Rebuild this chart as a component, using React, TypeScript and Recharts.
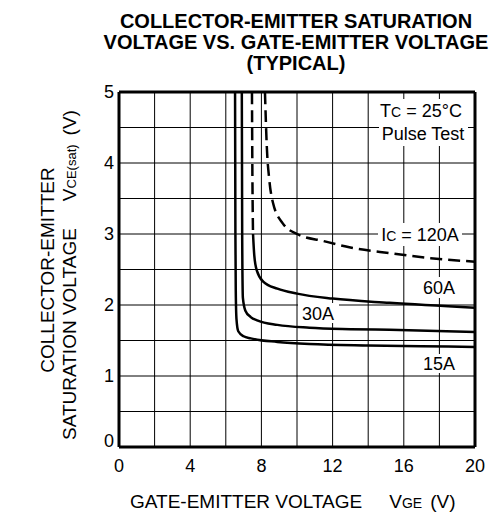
import { ComposedChart, CartesianGrid, XAxis, YAxis, Line, ReferenceLine } from "recharts";

const W = 496;
const H = 517;

// curves: [VGE, VCE(sat)]
const ic15: [number, number][] = [
  [6.52, 5], [6.54, 3.0], [6.56, 2.2], [6.6, 1.8], [6.7, 1.63], [7.0, 1.56], [7.4, 1.53],
  [8.9, 1.48], [10.7, 1.45], [14, 1.43], [17, 1.42], [20, 1.41],
];
const ic30: [number, number][] = [
  [6.9, 5], [6.92, 3.0], [6.96, 2.1], [7.1, 1.92], [7.4, 1.83], [7.8, 1.78], [8.9, 1.72],
  [10.7, 1.68], [13, 1.66], [15.2, 1.65], [20, 1.62],
];
const ic60Dash: [number, number][] = [
  [7.47, 5], [7.49, 4], [7.53, 3.0],
];
const ic60: [number, number][] = [
  [7.53, 3.0], [7.6, 2.7], [7.75, 2.48], [8.1, 2.33], [8.9, 2.23], [10, 2.16], [12, 2.09],
  [15.2, 2.03], [20, 1.96],
];
const ic120: [number, number][] = [
  [8.2, 5], [8.3, 4.25], [8.45, 3.75], [8.65, 3.44], [9.2, 3.15], [10, 3.0], [11.5, 2.9],
  [13, 2.81], [15.2, 2.73], [17.5, 2.66], [20, 2.61],
];

const xTicks = [0, 2, 4, 6, 8, 10, 12, 14, 16, 18, 20];
const yTicks = [0, 0.5, 1, 1.5, 2, 2.5, 3, 3.5, 4, 4.5, 5];

const toRows = (pts: [number, number][]) => pts.map(([x, y]) => ({ x, y }));

const font = "'Liberation Sans', Arial, sans-serif";

const series = [
  { key: "15A", data: ic15, dash: undefined },
  { key: "30A", data: ic30, dash: undefined },
  { key: "60A-d", data: ic60Dash, dash: "12 6" },
  { key: "60A", data: ic60, dash: undefined },
  { key: "120A", data: ic120, dash: "12 6" },
];

const YTick = (props: any) => {
  const { x, y, payload } = props;
  const v = payload.value as number;
  if (!Number.isInteger(v)) return <g />;
  return (
    <text x={x} y={v === 0 ? y - 6 : y} dy={6} textAnchor="end" fill="#000" fontSize={18} fontFamily={font}>
      {v}
    </text>
  );
};

const Labels = () => (
  <svg width={W} height={H} style={{ position: "absolute", left: 0, top: 0, pointerEvents: "none" }}>
    <g fontFamily={font} fontWeight="bold" fontSize={20} textAnchor="middle" fill="#000">
      <text x={296} y={28}>COLLECTOR-EMITTER SATURATION</text>
      <text x={296} y={49}>VOLTAGE VS. GATE-EMITTER VOLTAGE</text>
      <text x={296} y={70}>(TYPICAL)</text>
    </g>
    <g fontFamily={font} fontSize={19} fill="#000">
      <text x={0} y={0} textAnchor="middle" transform="translate(54,270) rotate(-90)">COLLECTOR-EMITTER</text>
      <text x={0} y={0} transform="translate(76,440) rotate(-90)">
        SATURATION VOLTAGE<tspan dx={27}>V</tspan><tspan fontSize={13}>CE(sat)</tspan><tspan dx={9}>(V)</tspan>
      </text>
      <text x={130} y={508}>
        GATE-EMITTER VOLTAGE<tspan dx={27}>V</tspan><tspan fontSize={14}>GE</tspan><tspan dx={8}>(V)</tspan>
      </text>
    </g>
    <g fill="#fff">
      <rect x={379} y={99} width={89} height={47} />
      <rect x={378} y={223} width={84} height={23} />
      <rect x={419} y={277} width={40} height={21} />
      <rect x={298} y={303} width={41} height={20} />
      <rect x={419} y={354} width={40} height={19} />
    </g>
    <g fontFamily={font} fontSize={18} fill="#000" textAnchor="middle">
      <text x={421} y={117}>T<tspan fontSize={14}>C</tspan> = 25°C</text>
      <text x={423} y={140}>Pulse Test</text>
      <text x={420} y={241}>I<tspan fontSize={14}>C</tspan> = 120A</text>
      <text x={439} y={294}>60A</text>
      <text x={318} y={320}>30A</text>
      <text x={439} y={370}>15A</text>
    </g>
  </svg>
);

export default function App() {
  return (
    <div style={{ position: "absolute", left: 0, top: 0, width: W, height: H, background: "#fff" }}>
      <ComposedChart width={W} height={H} margin={{ top: 92, right: 21, bottom: 0, left: 0 }}>
        <CartesianGrid stroke="#000" strokeWidth={1} />
        <XAxis
          type="number"
          dataKey="x"
          domain={[0, 20]}
          ticks={xTicks}
          interval={0}
          tickFormatter={(v: number) => (v % 4 === 0 ? String(v) : "")}
          tickLine={false}
          tickSize={0}
          tickMargin={12}
          height={70}
          axisLine={{ stroke: "#000", strokeWidth: 3 }}
          tick={{ fill: "#000", fontSize: 18, fontFamily: font }}
          allowDataOverflow
        />
        <YAxis
          type="number"
          domain={[0, 5]}
          ticks={yTicks}
          interval={0}
          tickLine={false}
          tickSize={0}
          tickMargin={5}
          width={119}
          axisLine={{ stroke: "#000", strokeWidth: 3 }}
          tick={<YTick />}
          allowDataOverflow
        />
        <ReferenceLine x={20} stroke="#000" strokeWidth={3} />
        <ReferenceLine y={5} stroke="#000" strokeWidth={3} />
        {series.map((s) => (
          <Line
            key={s.key}
            data={toRows(s.data)}
            dataKey="y"
            type="monotone"
            stroke="#000"
            strokeWidth={2.5}
            strokeDasharray={s.dash}
            dot={false}
            activeDot={false}
            isAnimationActive={false}
          />
        ))}
      </ComposedChart>
      <Labels />
    </div>
  );
}
